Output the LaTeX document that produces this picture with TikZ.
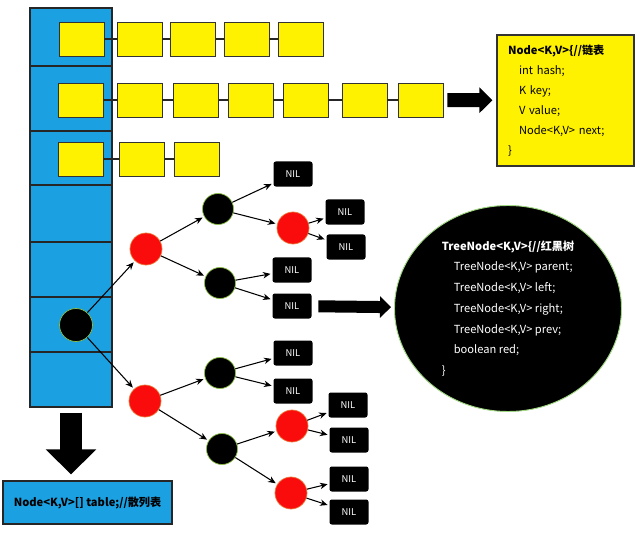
\documentclass[tikz,border=0pt]{standalone}
\usepackage{fontspec}
\setmainfont{Noto Sans CJK SC}
\usetikzlibrary{shapes.geometric,arrows.meta}
\definecolor{tblblue}{RGB}{27,161,226}
\definecolor{nodered}{RGB}{250,12,12}
\definecolor{ringorange}{RGB}{235,120,60}
\definecolor{ringgreen}{RGB}{140,190,70}
\definecolor{ringlight}{RGB}{160,215,130}
\begin{document}
\begin{tikzpicture}[x=0.03cm,y=-0.03cm]
    \tikzset{
    cell/.style={rectangle,draw=black!85,line width=1.2pt,fill=tblblue,minimum width=2.46cm,inner sep=0pt},
    ybox/.style={rectangle,draw=black!80,line width=0.8pt,fill=yellow,minimum width=1.35cm,minimum height=1.02cm,inner sep=0pt},
    bk/.style={circle,fill=black,draw=ringgreen,line width=0.6pt,minimum size=0.93cm,inner sep=0pt},
    rd/.style={circle,fill=nodered,draw=ringorange,line width=0.6pt,minimum size=0.96cm,inner sep=0pt},
    nil/.style={rectangle,rounded corners=2pt,fill=black,text=white,font=\fontsize{8}{9}\selectfont,minimum width=1.17cm,minimum height=0.75cm,inner sep=0pt},
    link/.style={line width=1.6pt,black!85},
    arr/.style={-{Stealth[length=6.5pt,width=5.5pt]},line width=0.9pt,shorten >=1.5pt},
    codebox/.style={rectangle,draw=black!80,line width=1pt,fill=yellow,text width=3.45cm,inner xsep=0.33cm,minimum height=3.93cm,align=left,font=\fontsize{9.5}{17.1}\selectfont},
    treebox/.style={ellipse,fill=black,draw=ringlight,line width=0.8pt,minimum width=6.81cm,minimum height=6.18cm,inner sep=0pt,text=white,align=left,font=\fontsize{9.5}{17.7}\selectfont},
    tblbox/.style={rectangle,draw=black!85,line width=1pt,fill=tblblue,minimum width=5.07cm,minimum height=1.29cm,font=\bfseries\fontsize{9.5}{11}\selectfont},
    }
    \useasboundingbox (0,0) rectangle (640,538);

    \node[cell,minimum height=1.74cm] (c1) at (71,37) {};
    \node[cell,minimum height=1.95cm] (c2) at (71,98.5) {};
    \node[cell,minimum height=1.62cm] (c3) at (71,158) {};
    \node[cell,minimum height=1.71cm] (c4) at (71,213.5) {};
    \node[cell,minimum height=1.65cm] (c5) at (71,269.5) {};
    \node[cell,minimum height=1.65cm] (c6) at (71,324.5) {};
    \node[cell,minimum height=1.65cm] (c7) at (71,379.5) {};

    \node[ybox] (l1a) at (81.5,39) {};
    \node[ybox] (l1b) at (139.5,39) {};
    \node[ybox] (l1c) at (193,39) {};
    \node[ybox] (l1d) at (246.5,39) {};
    \node[ybox] (l1e) at (300.5,39) {};
    \draw[link] (l1a) -- (l1b);
    \draw[link] (l1b) -- (l1c);
    \draw[link] (l1c) -- (l1d);
    \draw[link] (l1d) -- (l1e);

    \node[ybox] (l2a) at (80.5,100) {};
    \node[ybox] (l2b) at (139.5,100) {};
    \node[ybox] (l2c) at (196,100) {};
    \node[ybox] (l2d) at (250.5,100) {};
    \node[ybox] (l2e) at (305.5,100) {};
    \node[ybox] (l2f) at (364.5,100) {};
    \node[ybox] (l2g) at (420.5,100) {};
    \draw[link] (l2a) -- (l2b);
    \draw[link] (l2b) -- (l2c);
    \draw[link] (l2c) -- (l2d);
    \draw[link] (l2d) -- (l2e);
    \draw[link] (l2e) -- (l2f);
    \draw[link] (l2f) -- (l2g);

    \node[ybox] (l3a) at (80.5,159) {};
    \node[ybox] (l3b) at (142,159) {};
    \node[ybox] (l3c) at (197,159) {};
    \draw[link] (l3a) -- (l3b);
    \draw[link] (l3b) -- (l3c);

    \node[codebox] (code) at (565.5,100.5) {\textbf{Node<K,V>\{//链表}\\
        \hspace*{0.33cm}int hash;\\
        \hspace*{0.33cm}K key;\\
        \hspace*{0.33cm}V value;\\
        \hspace*{0.33cm}Node<K,V> next;\\
        \}};
    \draw[line width=0.42cm,-{Triangle[length=0.39cm,width=0.75cm]},shorten <=0.12cm,shorten >=0.12cm] (l2g) -- (code);

    \node[bk,minimum size=0.99cm] (t0) at (76,325) {};
    \node[rd] (r1) at (146,249) {};
    \node[bk] (b1) at (218,209) {};
    \node[bk] (b2) at (220,283) {};
    \node[rd] (r2) at (293,228) {};
    \node[nil] (n1) at (293,174) {NIL};
    \node[nil] (n2) at (345,212) {NIL};
    \node[nil] (n3) at (346,247) {NIL};
    \node[nil] (n4) at (292,270) {NIL};
    \node[nil] (n5) at (292,306) {NIL};

    \node[rd] (r3) at (145,401) {};
    \node[bk] (b3) at (220,373) {};
    \node[bk] (b4) at (222,449) {};
    \node[rd] (r4) at (292,426) {};
    \node[rd] (r5) at (291,493) {};
    \node[nil] (n6) at (293,353) {NIL};
    \node[nil] (n7) at (293,391) {NIL};
    \node[nil] (n8) at (348,405) {NIL};
    \node[nil] (n9) at (349,440) {NIL};
    \node[nil] (n10) at (349,479) {NIL};
    \node[nil] (n11) at (349,512) {NIL};

    \draw[arr] (t0) -- (r1);
    \draw[arr] (r1) -- (b1);
    \draw[arr] (r1) -- (b2);
    \draw[arr] (b1) -- (n1);
    \draw[arr] (b1) -- (r2);
    \draw[arr] (r2) -- (n2);
    \draw[arr] (r2) -- (n3);
    \draw[arr] (b2) -- (n4);
    \draw[arr] (b2) -- (n5);

    \draw[arr] (t0) -- (r3);
    \draw[arr] (r3) -- (b3);
    \draw[arr] (r3) -- (b4);
    \draw[arr] (b3) -- (n6);
    \draw[arr] (b3) -- (n7);
    \draw[arr] (b4) -- (r4);
    \draw[arr] (b4) -- (r5);
    \draw[arr] (r4) -- (n8);
    \draw[arr] (r4) -- (n9);
    \draw[arr] (r5) -- (n10);
    \draw[arr] (r5) -- (n11);

    \node[treebox] (rbt) at (508,308.5) {\textbf{TreeNode<K,V>\{//红黑树}\\
        \hspace*{0.36cm}TreeNode<K,V> parent;\\
        \hspace*{0.36cm}TreeNode<K,V> left;\\
        \hspace*{0.36cm}TreeNode<K,V> right;\\
        \hspace*{0.36cm}TreeNode<K,V> prev;\\
        \hspace*{0.36cm}boolean red;\\
        \}};
    \draw[line width=0.36cm,-{Triangle[length=0.33cm,width=0.63cm]},shorten <=0.2cm,shorten >=0.09cm] (n5) -- (rbt);

    \node[tblbox] (tbl) at (87.5,502.5) {Node<K,V>[] table;//散列表};
    \draw[line width=0.66cm,-{Triangle[length=0.75cm,width=1.47cm]},shorten <=0.15cm,shorten >=0.18cm] (c7.south) -- (c7.south |- tbl.north);
\end{tikzpicture}
\end{document}
